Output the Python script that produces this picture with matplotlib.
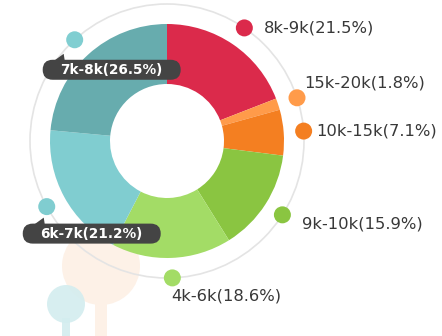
import matplotlib
matplotlib.use("Agg")
import matplotlib.pyplot as plt
from matplotlib.patches import Circle, FancyBboxPatch, Polygon, Rectangle
import numpy as np

# Salary ranges and their shares (%)
ranges = ["8k-9k", "15k-20k", "10k-15k", "9k-10k", "4k-6k", "6k-7k", "7k-8k"]
shares = [21.5, 1.8, 7.1, 15.9, 18.6, 21.2, 26.5]
slice_colors = ["#DB2A4B", "#FF9B4A", "#F47F21", "#8AC541", "#A3DC66", "#80CDD0", "#67ACAE"]
dot_colors = ["#DB2A4B", "#FF9B4A", "#F47F21", "#8AC541", "#A3DC66", "#80CDD0", "#80CED1"]

# Label placement relative to each marker dot: (style, dx px, dy px downward)
label_layout = [
    ("text", 20, 0),
    ("text", 7, -15),
    ("text", 13, 0),
    ("text", 20, 9),
    ("text", -1, 18),
    ("bubble", 45, 27),
    ("bubble", 37, 30),
]

W, H = 442, 336
fig = plt.figure(figsize=(W / 100, H / 100), dpi=100)
ax = fig.add_axes([0, 0, 1, 1])

cx, cy = 167, H - 141
R_OUT, R_IN, R_RING = 117, 57, 137

# soft decorative balloons in the lower left
ax.add_patch(Circle((101, H - 266), 39, color="#FDF1E7", lw=0, zorder=0))
ax.add_patch(Rectangle((95, 0), 12, H - 300, color="#FDF1E7", lw=0, zorder=0))
ax.add_patch(Circle((66, H - 304), 19, color="#D3EDEF", alpha=0.9, lw=0, zorder=0.5))
ax.add_patch(Rectangle((62, 0), 7.5, H - 318, color="#D3EDEF", alpha=0.9, lw=0, zorder=0.5))

# thin outer guide ring
ax.add_patch(Circle((cx, cy), R_RING, fill=False, ec="#E4E4E4", lw=1.2, zorder=1))

wedges, _ = ax.pie(
    shares, colors=slice_colors, startangle=90, counterclock=False,
    radius=R_OUT, center=(cx, cy),
    wedgeprops=dict(width=R_OUT - R_IN, linewidth=0, zorder=2),
)

for w, rng, val, dcol, (style, dx, dy) in zip(wedges, ranges, shares, dot_colors, label_layout):
    mid = np.deg2rad((w.theta1 + w.theta2) / 2)
    px = cx + R_RING * np.cos(mid)
    py = cy + R_RING * np.sin(mid)
    ax.add_patch(Circle((px, py), 8.5, color=dcol, lw=0, zorder=4))
    label = f"{rng}({val}%)"
    if style == "text":
        ax.text(px + dx, py - dy, label, ha="left", va="center",
                fontsize=11.8, color="#383838", zorder=5)
    else:
        bw, bh = 138, 20
        bx = px + dx - bw / 2
        by = py - dy - bh / 2
        ax.add_patch(FancyBboxPatch((bx, by), bw, bh,
                                    boxstyle="round,pad=0,rounding_size=10",
                                    fc="#444444", ec="none", zorder=5))
        top = by + bh
        ax.add_patch(Polygon([(bx + 12, top - 0.5), (bx + 22, top - 0.5), (bx + 21, top + 6)],
                             closed=True, fc="#444444", ec="none", zorder=5))
        ax.text(bx + bw / 2, by + bh / 2, label, ha="center", va="center",
                fontsize=9.8, fontweight="bold", color="white", zorder=6)

ax.set_xlim(0, W)
ax.set_ylim(0, H)
ax.set_aspect("equal")
ax.axis("off")

fig.savefig("out.png", dpi=100)
